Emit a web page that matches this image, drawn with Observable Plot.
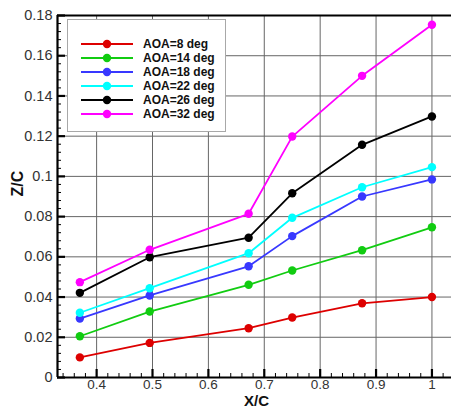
<!DOCTYPE html>
<html>
<head>
<meta charset="utf-8">
<script src="https://cdn.jsdelivr.net/npm/d3@7"></script>
<script src="https://cdn.jsdelivr.net/npm/@observablehq/plot@0.6"></script>
<style>
  html, body { margin: 0; padding: 0; background: #fff; }
  #wrap { position: relative; width: 451px; height: 410px; font-family: Arial, "Liberation Sans", sans-serif; }
  #legend { position: absolute; left: 67px; top: 19px; width: 157px; height: 111px; border: 1px solid #a8a8a8; background: #fff; box-sizing: content-box; }
  .row { position: absolute; left: 0; height: 14px; display: flex; align-items: center; }
  .row span { font-weight: bold; font-size: 12px; color: #111; margin-left: 9px; }
</style>
</head>
<body>
<div id="wrap"></div>
<script>
const xPos = [0.37, 0.495, 0.672, 0.75, 0.875, 1.0];
const seriesNames = ["AOA=8 deg", "AOA=14 deg", "AOA=18 deg", "AOA=22 deg", "AOA=26 deg", "AOA=32 deg"];
const seriesColors = ["#dd0000", "#11cc11", "#3838ff", "#00ffff", "#000000", "#ff00ff"];
const aoa8  = [0.0100, 0.0172, 0.0245, 0.0298, 0.0369, 0.0400];
const aoa14 = [0.0205, 0.0328, 0.0461, 0.0532, 0.0633, 0.0747];
const aoa18 = [0.0293, 0.0408, 0.0553, 0.0703, 0.0900, 0.0985];
const aoa22 = [0.0322, 0.0444, 0.0618, 0.0794, 0.0946, 0.1046];
const aoa26 = [0.0421, 0.0598, 0.0695, 0.0916, 0.1157, 0.1298];
const aoa32 = [0.0474, 0.0635, 0.0814, 0.1198, 0.1500, 0.1754];
const xMajor = [0.4, 0.5, 0.6, 0.7, 0.8, 0.9, 1.0];
const xMinor = [0.34, 0.36, 0.38, 0.42, 0.44, 0.46, 0.48, 0.52, 0.54, 0.56, 0.58, 0.62, 0.64, 0.66, 0.68, 0.72, 0.74, 0.76, 0.78, 0.82, 0.84, 0.86, 0.88, 0.92, 0.94, 0.96, 0.98, 1.02];
const yMajor = [0, 0.02, 0.04, 0.06, 0.08, 0.1, 0.12, 0.14, 0.16, 0.18];
const yMinor = [0.004, 0.008, 0.012, 0.016, 0.024, 0.028, 0.032, 0.036, 0.044, 0.048, 0.052, 0.056, 0.064, 0.068, 0.072, 0.076, 0.084, 0.088, 0.092, 0.096, 0.104, 0.108, 0.112, 0.116, 0.124, 0.128, 0.132, 0.136, 0.144, 0.148, 0.152, 0.156, 0.164, 0.168, 0.172, 0.176];
const xDomain = [0.33, 1.035];
const yDomain = [0, 0.18];

const allSeries = [aoa8, aoa14, aoa18, aoa22, aoa26, aoa32];
const data = [];
allSeries.forEach((vals, i) => vals.forEach((v, j) => data.push({x: xPos[j], y: v, s: seriesNames[i]})));

const fmt = d => String(+d.toFixed(3));

const chart = Plot.plot({
  width: 451,
  height: 410,
  marginLeft: 57,
  marginRight: 0,
  marginTop: 15,
  marginBottom: 33,
  style: {fontFamily: "Arial, 'Liberation Sans', sans-serif", overflow: "visible", background: "#fff"},
  x: {domain: xDomain, axis: null},
  y: {domain: yDomain, axis: null},
  color: {domain: seriesNames, range: seriesColors},
  marks: [
    Plot.gridX(xMajor, {stroke: "#666", strokeOpacity: 1, strokeWidth: 1}),
    Plot.gridY(yMajor, {stroke: "#666", strokeOpacity: 1, strokeWidth: 1}),
    Plot.axisX(xMajor, {tickSize: -8, strokeWidth: 2.2, tickFormat: () => "", label: null}),
    Plot.axisX(xMinor, {tickSize: -4, strokeWidth: 1, tickFormat: () => "", label: null}),
    Plot.axisY(yMajor, {tickSize: -8, strokeWidth: 2.2, tickFormat: () => "", label: null}),
    Plot.axisY(yMinor, {tickSize: -4, strokeWidth: 1, tickFormat: () => "", label: null}),
    Plot.axisX(xMajor, {tickSize: 0, tickPadding: 2, tickFormat: fmt, fontSize: 13.5, fill: "#333", label: null}),
    Plot.axisY(yMajor, {tickSize: 0, tickPadding: 5, tickFormat: fmt, fontSize: 14.5, fill: "#333", label: null}),
    Plot.ruleX([xDomain[0]], {stroke: "#000", strokeWidth: 2.2}),
    Plot.ruleY([yDomain[0]], {stroke: "#000", strokeWidth: 2.2}),
    Plot.ruleY([yDomain[1]], {stroke: "#000", strokeWidth: 2.2}),
    Plot.line(data, {x: "x", y: "y", z: "s", stroke: "s", strokeWidth: 1.8}),
    Plot.dot(data, {x: "x", y: "y", fill: "s", r: 4.2}),
    Plot.text(["X/C"], {frameAnchor: "bottom", dx: 2, dy: 28, fontSize: 15, fontWeight: "bold", fill: "#111"}),
    Plot.text(["Z/C"], {frameAnchor: "left", dx: -40, rotate: -90, fontSize: 16, fontWeight: "bold", fill: "#111"})
  ]
});

const wrap = document.getElementById("wrap");
wrap.appendChild(chart);

const legend = document.createElement("div");
legend.id = "legend";
seriesNames.forEach((name, i) => {
  const row = document.createElement("div");
  row.className = "row";
  row.style.top = (17 + i * 14) + "px";
  row.style.left = "12px";
  row.innerHTML = `<svg width="54" height="14"><line x1="1" y1="7" x2="53" y2="7" stroke="${seriesColors[i]}" stroke-width="2"/><circle cx="27" cy="7" r="4.2" fill="${seriesColors[i]}"/></svg><span>${name}</span>`;
  legend.appendChild(row);
});
wrap.appendChild(legend);
</script>
</body>
</html>
